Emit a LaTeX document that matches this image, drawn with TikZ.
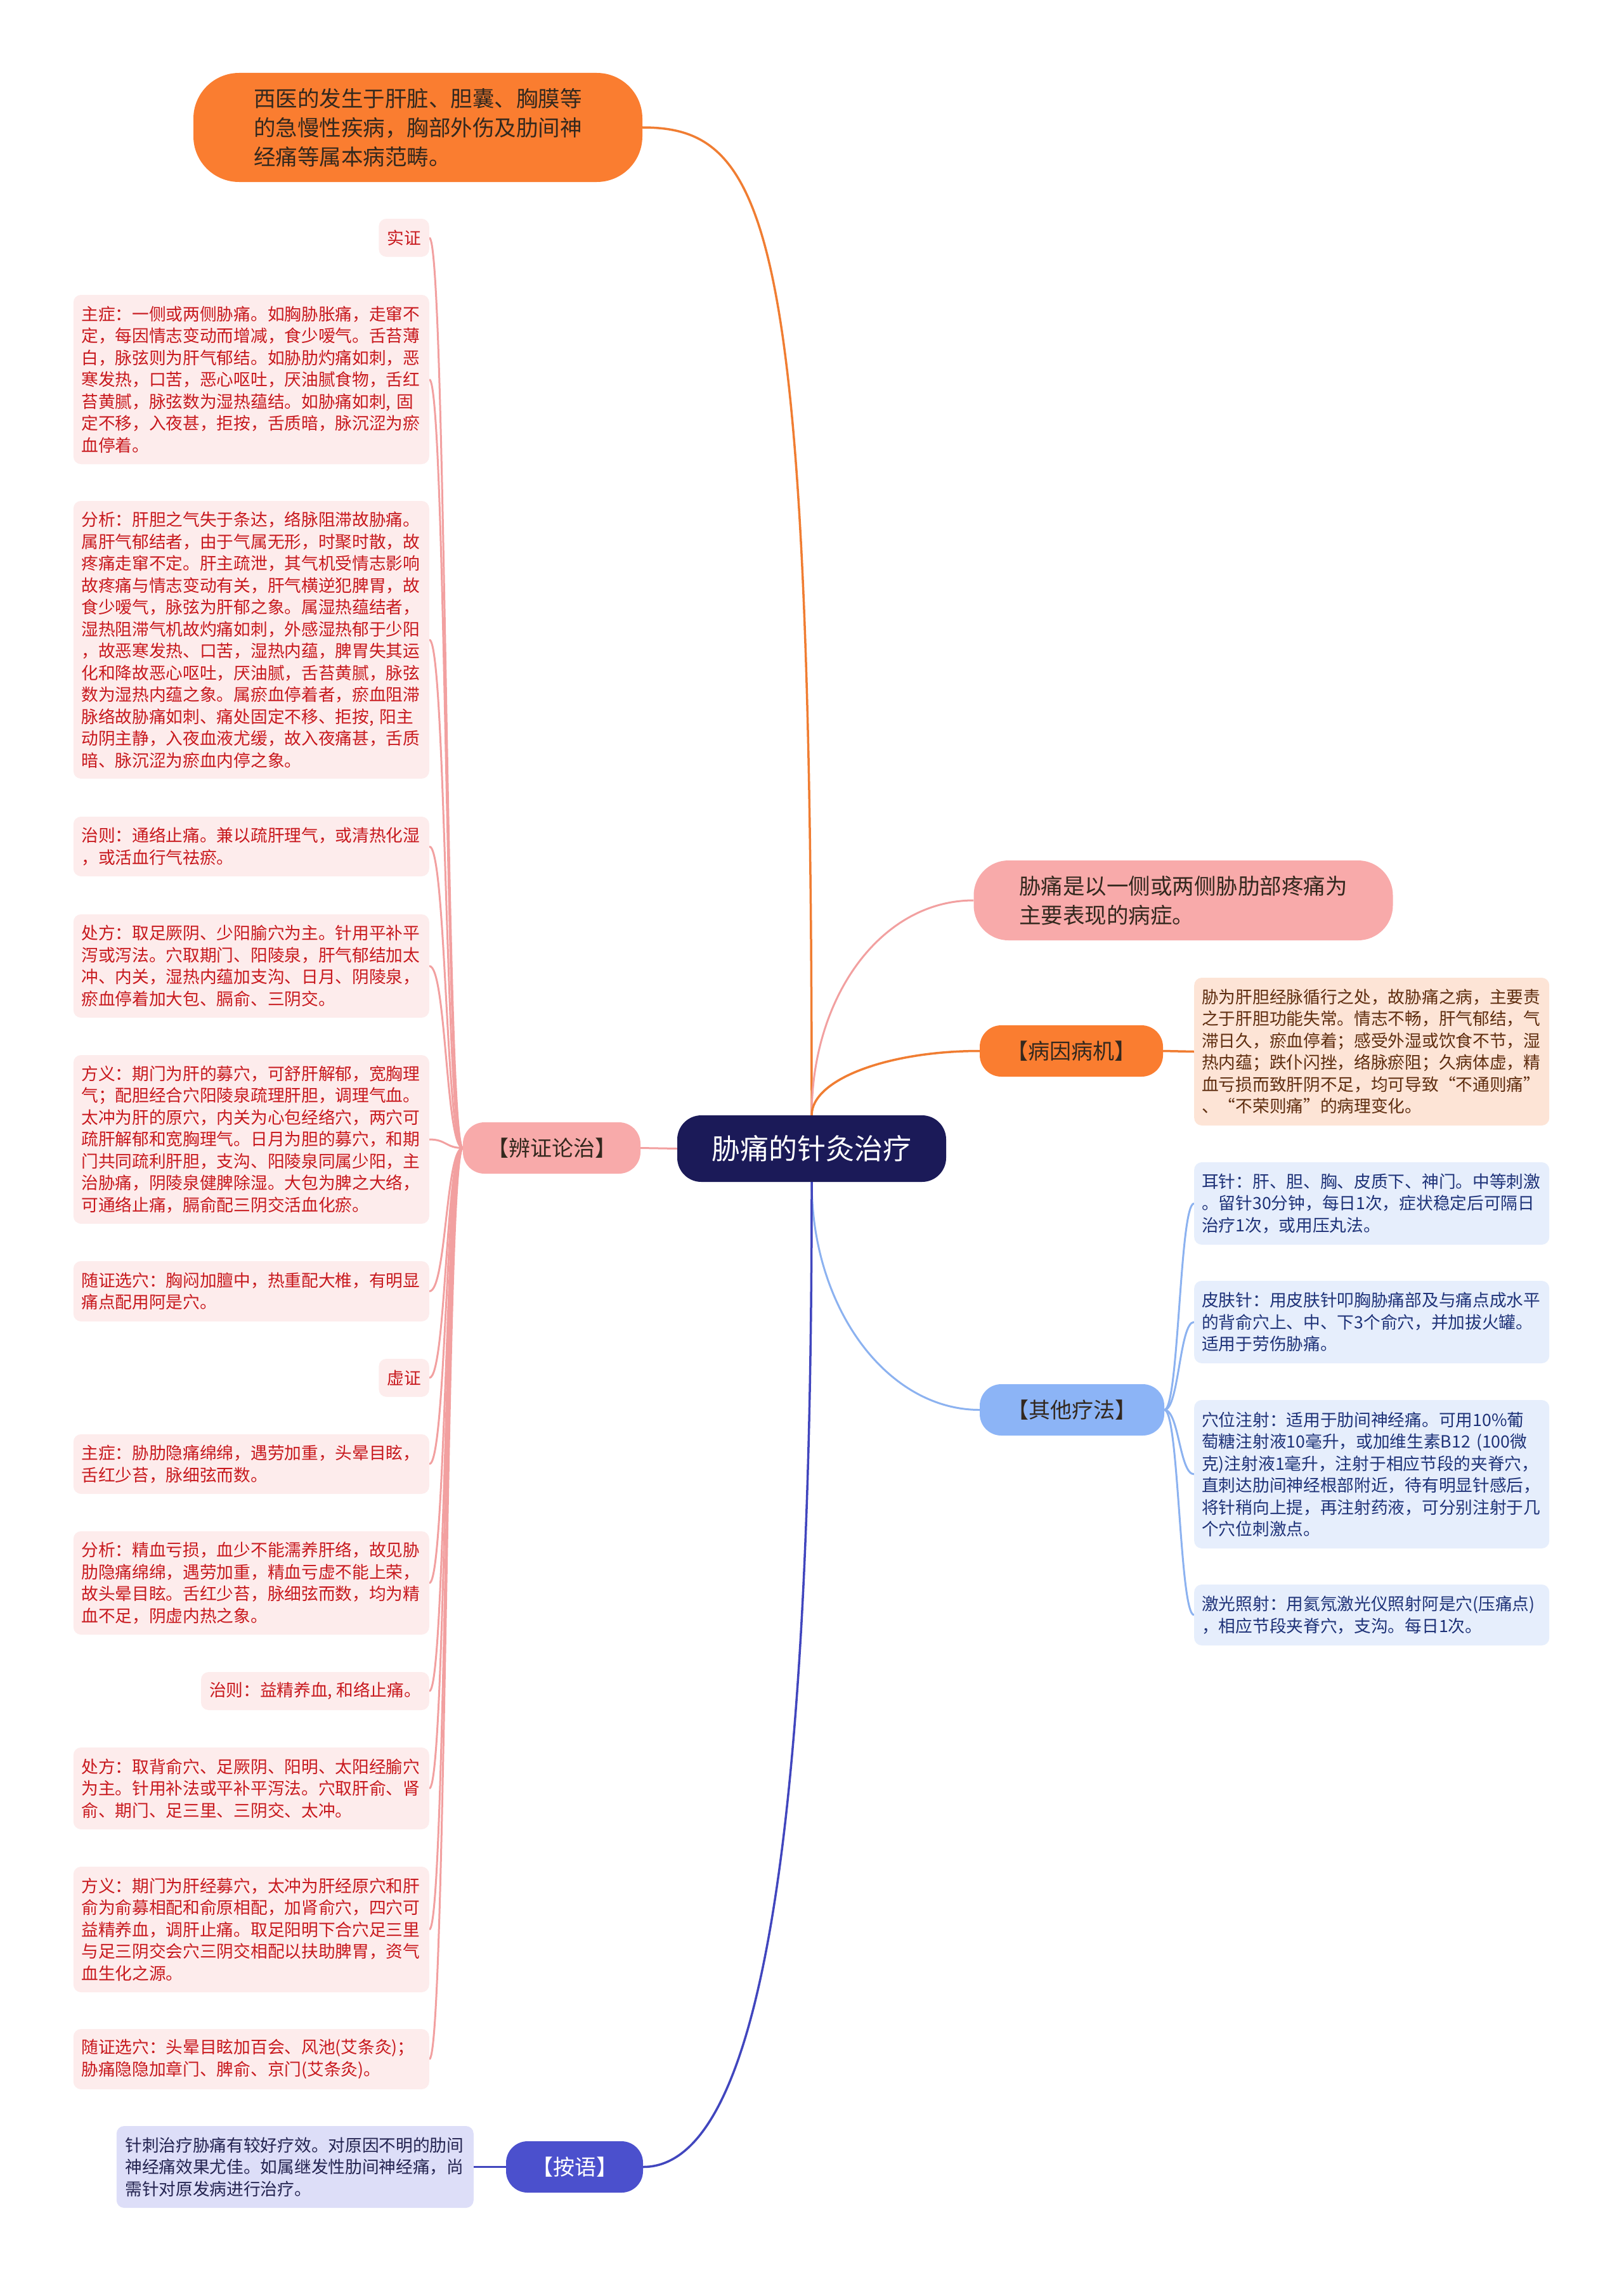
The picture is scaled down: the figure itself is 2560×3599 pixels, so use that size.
\documentclass[tikz,border=0pt]{standalone}
\usepackage{fontspec}
\setmainfont{Noto Sans CJK SC}
\pgfdeclarelayer{bg}
\pgfsetlayers{bg,main}
\definecolor{orgF}{RGB}{250,125,48}
\definecolor{orgL}{RGB}{240,125,50}
\definecolor{navyF}{RGB}{27,26,88}
\definecolor{pinkN}{RGB}{248,170,170}
\definecolor{pinkL}{RGB}{242,160,160}
\definecolor{lbF}{RGB}{253,236,236}
\definecolor{lbT}{RGB}{200,25,30}
\definecolor{peachF}{RGB}{253,228,214}
\definecolor{peachT}{RGB}{95,45,15}
\definecolor{blueN}{RGB}{140,180,246}
\definecolor{blueL}{RGB}{140,178,240}
\definecolor{rbF}{RGB}{230,238,252}
\definecolor{rbT}{RGB}{30,50,120}
\definecolor{indN}{RGB}{75,80,205}
\definecolor{indL}{RGB}{65,70,190}
\definecolor{anF}{RGB}{221,222,248}
\definecolor{anT}{RGB}{35,35,80}
\definecolor{darkT}{RGB}{51,40,30}
\begin{document}
\begin{tikzpicture}[x=1pt,y=-1pt,
  detail/.style={rounded corners=12pt, align=left, inner ysep=0pt,
    font=\fontsize{26.7}{34.5}\selectfont},
  leftbox/.style={detail, fill=lbF, text=lbT, anchor=east, text width=536pt, inner xsep=12.5pt},
  leftsmall/.style={detail, fill=lbF, text=lbT, anchor=east, inner xsep=13pt},
  rightbox/.style={detail, fill=rbF, text=rbT, anchor=west, text width=536pt, inner xsep=12pt},
  tagnode/.style={rounded corners=34pt, font=\fontsize{34}{40}\selectfont, inner sep=0pt,
    minimum height=81pt},
  bignode/.style={align=left, inner sep=0pt, font=\fontsize{34.5}{46}\selectfont},
  orgline/.style={draw=orgL, line width=3.5pt},
  pinkline/.style={draw=pinkL, line width=3pt},
  blueline/.style={draw=blueL, line width=3pt},
  indline/.style={draw=indL, line width=3.5pt}
]
\useasboundingbox (0,0) rectangle (2560,3599);

% central
\node[fill=navyF, text=white, font=\fontsize{45}{54}\selectfont, minimum width=424pt,
  minimum height=105pt, rounded corners=38pt, inner sep=0pt] (root) at (1280,1811.5) {胁痛的针灸治疗};

% top
\node[bignode, fill=orgF, text=darkT, minimum width=708pt, minimum height=172pt,
  rounded corners=72pt] (xiyi) at (659,201)
  {西医的发生于肝脏、胆囊、胸膜等\\的急慢性疾病，胸部外伤及肋间神\\经痛等属本病范畴。};

% right
\node[bignode, fill=pinkN, text=darkT, minimum width=661pt, minimum height=126pt,
  rounded corners=55pt] (def) at (1866,1420)
  {胁痛是以一侧或两侧胁肋部疼痛为\\主要表现的病症。};
\node[tagnode, fill=orgF, text=darkT, minimum width=289pt] (byjj) at (1689.5,1657.5) {【病因病机】};
\node[detail, fill=peachF, text=peachT, anchor=west, text width=536pt, inner xsep=12pt,
  minimum height=233pt] (byjjd) at (1883,1658.5)
  {胁为肝胆经脉循行之处，故胁痛之病，主要责\\之于肝胆功能失常。情志不畅，肝气郁结，气\\滞日久，瘀血停着；感受外湿或饮食不节，湿\\热内蕴；跌仆闪挫，络脉瘀阻；久病体虚，精\\血亏损而致肝阴不足，均可导致“不通则痛”\\、“不荣则痛”的病理变化。};

\node[tagnode, fill=blueN, text=darkT, minimum width=291pt] (qtlf) at (1690.5,2223.5) {【其他疗法】};
\node[rightbox, minimum height=130pt] (r1) at (1883,1898)
  {耳针：肝、胆、胸、皮质下、神门。中等刺激\\。留针30分钟，每日1次，症状稳定后可隔日\\治疗1次，或用压丸法。};
\node[rightbox, minimum height=130pt] (r2) at (1883,2085)
  {皮肤针：用皮肤针叩胸胁痛部及与痛点成水平\\的背俞穴上、中、下3个俞穴，并加拔火罐。\\适用于劳伤胁痛。};
\node[rightbox, minimum height=234pt] (r3) at (1883,2325)
  {穴位注射：适用于肋间神经痛。可用10\%葡\\萄糖注射液10毫升，或加维生素B12 (100微\\克)注射液1毫升，注射于相应节段的夹脊穴，\\直刺达肋间神经根部附近，待有明显针感后，\\将针稍向上提，再注射药液，可分别注射于几\\个穴位刺激点。};
\node[rightbox, minimum height=96pt] (r4) at (1883,2547)
  {激光照射：用氦氖激光仪照射阿是穴(压痛点)\\，相应节段夹脊穴，支沟。每日1次。};

% left
\node[tagnode, fill=pinkN, text=darkT, minimum width=280pt] (bz) at (870,1810.5) {【辨证论治】};
\node[leftsmall, minimum height=60pt] (l1) at (677,375) {实证};
\node[leftbox, minimum height=267pt] (l2) at (677,598.5)
  {主症：一侧或两侧胁痛。如胸胁胀痛，走窜不\\定，每因情志变动而增减，食少嗳气。舌苔薄\\白，脉弦则为肝气郁结。如胁肋灼痛如刺，恶\\寒发热，口苦，恶心呕吐，厌油腻食物，舌红\\苔黄腻，脉弦数为湿热蕴结。如胁痛如刺, 固\\定不移，入夜甚，拒按，舌质暗，脉沉涩为瘀\\血停着。};
\node[leftbox, minimum height=438pt] (l3) at (677,1009)
  {分析：肝胆之气失于条达，络脉阻滞故胁痛。\\属肝气郁结者，由于气属无形，时聚时散，故\\疼痛走窜不定。肝主疏泄，其气机受情志影响\\故疼痛与情志变动有关，肝气横逆犯脾胃，故\\食少嗳气，脉弦为肝郁之象。属湿热蕴结者，\\湿热阻滞气机故灼痛如刺，外感湿热郁于少阳\\，故恶寒发热、口苦，湿热内蕴，脾胃失其运\\化和降故恶心呕吐，厌油腻，舌苔黄腻，脉弦\\数为湿热内蕴之象。属瘀血停着者，瘀血阻滞\\脉络故胁痛如刺、痛处固定不移、拒按, 阳主\\动阴主静，入夜血液尤缓，故入夜痛甚，舌质\\暗、脉沉涩为瘀血内停之象。};
\node[leftbox, minimum height=94pt] (l4) at (677,1335)
  {治则：通络止痛。兼以疏肝理气，或清热化湿\\，或活血行气祛瘀。};
\node[leftbox, minimum height=163pt] (l5) at (677,1523.5)
  {处方：取足厥阴、少阳腧穴为主。针用平补平\\泻或泻法。穴取期门、阳陵泉，肝气郁结加太\\冲、内关，湿热内蕴加支沟、日月、阴陵泉，\\瘀血停着加大包、膈俞、三阴交。};
\node[leftbox, minimum height=266pt] (l6) at (677,1797)
  {方义：期门为肝的募穴，可舒肝解郁，宽胸理\\气；配胆经合穴阳陵泉疏理肝胆，调理气血。\\太冲为肝的原穴，内关为心包经络穴，两穴可\\疏肝解郁和宽胸理气。日月为胆的募穴，和期\\门共同疏利肝胆，支沟、阳陵泉同属少阳，主\\治胁痛，阴陵泉健脾除湿。大包为脾之大络，\\可通络止痛，膈俞配三阴交活血化瘀。};
\node[leftbox, minimum height=95pt] (l7) at (677,2036.5)
  {随证选穴：胸闷加膻中，热重配大椎，有明显\\痛点配用阿是穴。};
\node[leftsmall, minimum height=60pt] (l8) at (677,2173) {虚证};
\node[leftbox, minimum height=94pt] (l9) at (677,2309)
  {主症：胁肋隐痛绵绵，遇劳加重，头晕目眩，\\舌红少苔，脉细弦而数。};
\node[leftbox, minimum height=163pt] (l10) at (677,2496.5)
  {分析：精血亏损，血少不能濡养肝络，故见胁\\肋隐痛绵绵，遇劳加重，精血亏虚不能上荣，\\故头晕目眩。舌红少苔，脉细弦而数，均为精\\血不足，阴虚内热之象。};
\node[leftsmall, minimum height=60pt] (l11) at (677,2667) {治则：益精养血, 和络止痛。};
\node[leftbox, minimum height=129pt] (l12) at (677,2820.5)
  {处方：取背俞穴、足厥阴、阳明、太阳经腧穴\\为主。针用补法或平补平泻法。穴取肝俞、肾\\俞、期门、足三里、三阴交、太冲。};
\node[leftbox, minimum height=198pt] (l13) at (677,3043)
  {方义：期门为肝经募穴，太冲为肝经原穴和肝\\俞为俞募相配和俞原相配，加肾俞穴，四穴可\\益精养血，调肝止痛。取足阳明下合穴足三里\\与足三阴交会穴三阴交相配以扶助脾胃，资气\\血生化之源。};
\node[leftbox, minimum height=95pt] (l14) at (677,3247.5)
  {随证选穴：头晕目眩加百会、风池(艾条灸)；\\胁痛隐隐加章门、脾俞、京门(艾条灸)。};

% bottom
\node[tagnode, fill=indN, text=white, minimum width=216pt] (anyu) at (906,3417.5) {【按语】};
\node[detail, fill=anF, text=anT, anchor=east, text width=536pt, inner xsep=13.5pt,
  minimum height=129pt] (anyud) at (747,3417.5)
  {针刺治疗胁痛有较好疗效。对原因不明的肋间\\神经痛效果尤佳。如属继发性肋间神经痛，尚\\需针对原发病进行治疗。};

\begin{pgfonlayer}{bg}
\fill[white] (0,0) rectangle (2560,3599);
\draw[orgline] (root.north) .. controls +(0,-1400) and +(200,0) .. (xiyi.east);
\draw[pinkline] (root.north) .. controls +(0,-187) and +(-146,0) .. (def.west);
\draw[orgline] (root.north) .. controls +(0,-56) and +(-146,0) .. (byjj.west);
\draw[blueline] (root.south) .. controls +(0,199) and +(-146,0) .. (qtlf.west);
\draw[indline] (root.south) .. controls +(0,836) and +(216,0) .. (anyu.east);
\draw[pinkline] (root.west) -- (bz.east);
\draw[orgline] (byjj.east) -- (byjjd.west);
\draw[indline] (anyu.west) -- (anyud.east);
\foreach \c in {l1,l2,l3,l4,l5,l6,l7,l8,l9,l10,l11,l12,l13,l14}
  \draw[pinkline] (bz.west) .. controls +(-27,0) and +(27,0) .. (\c.east);
\foreach \c in {r1,r2,r3,r4}
  \draw[blueline] (qtlf.east) .. controls +(23,0) and +(-23,0) .. (\c.west);
\end{pgfonlayer}
\end{tikzpicture}
\end{document}
